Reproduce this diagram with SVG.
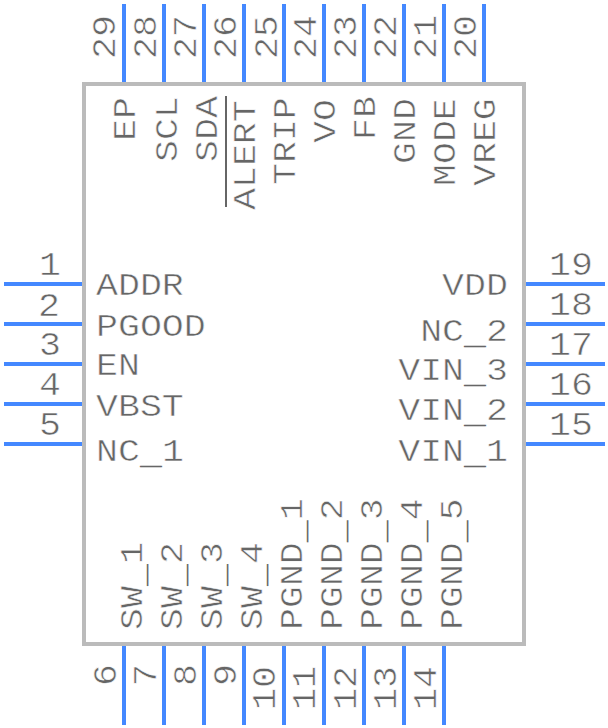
<svg xmlns="http://www.w3.org/2000/svg" width="608" height="728" viewBox="0 0 608 728">
<style>
text{font-family:"Liberation Mono",monospace;fill:#666;stroke:#fff;stroke-width:.6px;font-size:36.6px}
.e{text-anchor:end}
.m{text-anchor:middle}
.u{stroke:none}
.c line{stroke:#4488ff;stroke-width:4}
#body rect{fill:#fff;stroke:#bbb;stroke-width:4}
</style>
<g id="body"><rect x="84" y="84" width="440" height="560"/>
<line x1="226" y1="96" x2="226" y2="207" stroke="#666" stroke-width="2"/>
<text transform="translate(96,295) scale(1,.86)">ADDR</text><text transform="translate(96,336) scale(1,.86)">PGOOD</text><text transform="translate(96,375) scale(1,.86)">EN</text><text transform="translate(96,416) scale(1,.86)">VBST</text><text transform="translate(96,461) scale(1,.86)">NC<tspan class="u" dy="4">_</tspan><tspan dy="-4">1</tspan></text>
<text class="e" transform="translate(508,295) scale(1,.86)">VDD</text><text class="e" transform="translate(508,341) scale(1,.86)">NC<tspan class="u" dy="4">_</tspan><tspan dy="-4">2</tspan></text><text class="e" transform="translate(508,380) scale(1,.86)">VIN<tspan class="u" dy="4">_</tspan><tspan dy="-4">3</tspan></text><text class="e" transform="translate(508,420) scale(1,.86)">VIN<tspan class="u" dy="4">_</tspan><tspan dy="-4">2</tspan></text><text class="e" transform="translate(508,461) scale(1,.86)">VIN<tspan class="u" dy="4">_</tspan><tspan dy="-4">1</tspan></text>
<text transform="translate(135,141) rotate(-90) scale(1,.86)">EP</text>
<text transform="translate(177,162) rotate(-90) scale(1,.86)">SCL</text>
<text transform="translate(217,162) rotate(-90) scale(1,.86)">SDA</text>
<text transform="translate(255,210) rotate(-90) scale(1,.86)">ALERT</text>
<text transform="translate(295,185) rotate(-90) scale(1,.86)">TRIP</text>
<text transform="translate(335,143) rotate(-90) scale(1,.86)">VO</text>
<text transform="translate(375,140) rotate(-90) scale(1,.86)">FB</text>
<text transform="translate(415,164) rotate(-90) scale(1,.86)">GND</text>
<text transform="translate(455,186) rotate(-90) scale(1,.86)">MODE</text>
<text transform="translate(495,186) rotate(-90) scale(1,.86)">VREG</text>
<text transform="translate(142,630) rotate(-90) scale(1,.86)">SW<tspan class="u" dy="4">_</tspan><tspan dy="-4">1</tspan></text>
<text transform="translate(182,630) rotate(-90) scale(1,.86)">SW<tspan class="u" dy="4">_</tspan><tspan dy="-4">2</tspan></text>
<text transform="translate(222,630) rotate(-90) scale(1,.86)">SW<tspan class="u" dy="4">_</tspan><tspan dy="-4">3</tspan></text>
<text transform="translate(262,630) rotate(-90) scale(1,.86)">SW<tspan class="u" dy="4">_</tspan><tspan dy="-4">4</tspan></text>
<text transform="translate(302,630) rotate(-90) scale(1,.86)">PGND<tspan class="u" dy="4">_</tspan><tspan dy="-4">1</tspan></text>
<text transform="translate(342,630) rotate(-90) scale(1,.86)">PGND<tspan class="u" dy="4">_</tspan><tspan dy="-4">2</tspan></text>
<text transform="translate(382,630) rotate(-90) scale(1,.86)">PGND<tspan class="u" dy="4">_</tspan><tspan dy="-4">3</tspan></text>
<text transform="translate(422,630) rotate(-90) scale(1,.86)">PGND<tspan class="u" dy="4">_</tspan><tspan dy="-4">4</tspan></text>
<text transform="translate(462,630) rotate(-90) scale(1,.86)">PGND<tspan class="u" dy="4">_</tspan><tspan dy="-4">5</tspan></text>
</g>
<g id="connectors" class="c">
<line x1="4" y1="284" x2="82" y2="284"/><line x1="4" y1="324" x2="82" y2="324"/><line x1="4" y1="364" x2="82" y2="364"/><line x1="4" y1="404" x2="82" y2="404"/><line x1="4" y1="444" x2="82" y2="444"/>
<line x1="526" y1="284" x2="605" y2="284"/><line x1="526" y1="324" x2="605" y2="324"/><line x1="526" y1="364" x2="605" y2="364"/><line x1="526" y1="404" x2="605" y2="404"/><line x1="526" y1="444" x2="605" y2="444"/>
<line x1="124" y1="4" x2="124" y2="82"/><line x1="164" y1="4" x2="164" y2="82"/><line x1="204" y1="4" x2="204" y2="82"/><line x1="244" y1="4" x2="244" y2="82"/><line x1="284" y1="4" x2="284" y2="82"/><line x1="324" y1="4" x2="324" y2="82"/><line x1="364" y1="4" x2="364" y2="82"/><line x1="404" y1="4" x2="404" y2="82"/><line x1="444" y1="4" x2="444" y2="82"/><line x1="484" y1="4" x2="484" y2="82"/>
<line x1="124" y1="646" x2="124" y2="725"/><line x1="164" y1="646" x2="164" y2="725"/><line x1="204" y1="646" x2="204" y2="725"/><line x1="244" y1="646" x2="244" y2="725"/><line x1="284" y1="646" x2="284" y2="725"/><line x1="324" y1="646" x2="324" y2="725"/><line x1="364" y1="646" x2="364" y2="725"/><line x1="404" y1="646" x2="404" y2="725"/><line x1="444" y1="646" x2="444" y2="725"/>
</g>
<g id="pin-numbers">
<text class="m" transform="translate(50,275) scale(1,.92)">1</text><text class="m" transform="translate(49,316) scale(1,.92)">2</text><text class="m" transform="translate(50,355) scale(1,.92)">3</text><text class="m" transform="translate(50,395) scale(1,.92)">4</text><text class="m" transform="translate(50,435) scale(1,.92)">5</text>
<text transform="translate(549,275) scale(1,.92)">19</text><text transform="translate(549,315) scale(1,.92)">18</text><text transform="translate(549,355) scale(1,.92)">17</text><text transform="translate(549,395) scale(1,.92)">16</text><text transform="translate(549,435) scale(1,.92)">15</text>
<text transform="translate(115,59) rotate(-90) scale(1,.92)">29</text>
<text transform="translate(156,59) rotate(-90) scale(1,.92)">28</text>
<text transform="translate(196,59) rotate(-90) scale(1,.92)">27</text>
<text transform="translate(236,59) rotate(-90) scale(1,.92)">26</text>
<text transform="translate(277,59) rotate(-90) scale(1,.92)">25</text>
<text transform="translate(316,59) rotate(-90) scale(1,.92)">24</text>
<text transform="translate(356,59) rotate(-90) scale(1,.92)">23</text>
<text transform="translate(396,59) rotate(-90) scale(1,.92)">22</text>
<text transform="translate(436,59) rotate(-90) scale(1,.92)">21</text>
<text transform="translate(476,59) rotate(-90) scale(1,.92)">20</text>
<text transform="translate(116,686) rotate(-90) scale(1,.92)">6</text>
<text transform="translate(156,686) rotate(-90) scale(1,.92)">7</text>
<text transform="translate(196,686) rotate(-90) scale(1,.92)">8</text>
<text transform="translate(236,686) rotate(-90) scale(1,.92)">9</text>
<text transform="translate(275,710) rotate(-90) scale(1,.92)">10</text>
<text transform="translate(315,710) rotate(-90) scale(1,.92)">11</text>
<text transform="translate(356,710) rotate(-90) scale(1,.92)">12</text>
<text transform="translate(396,710) rotate(-90) scale(1,.92)">13</text>
<text transform="translate(436,710) rotate(-90) scale(1,.92)">14</text>
</g>
</svg>
